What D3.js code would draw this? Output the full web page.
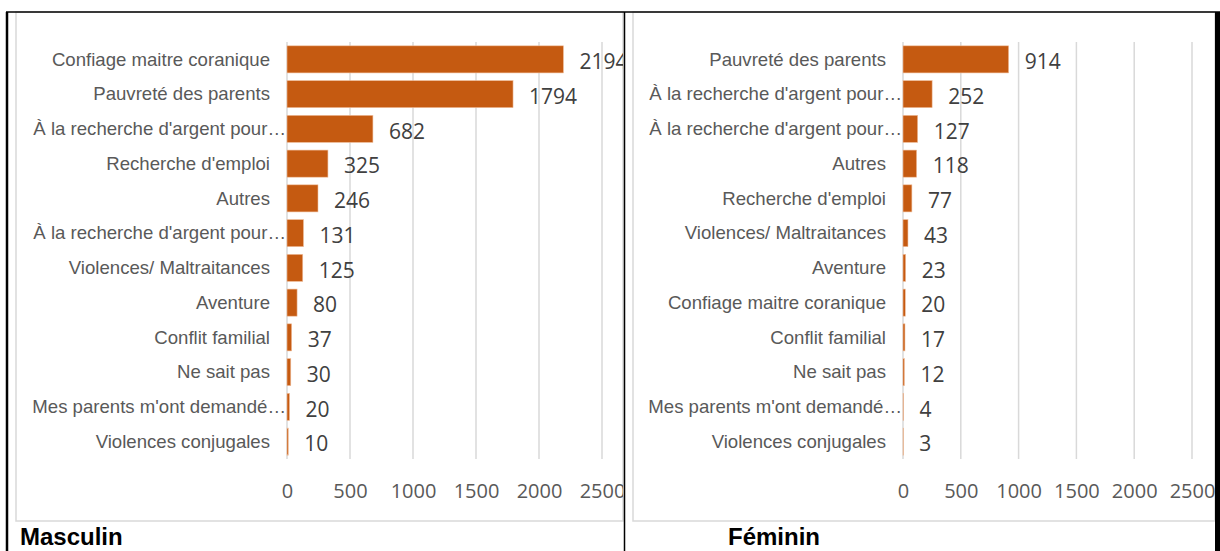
<!DOCTYPE html>
<html>
<head>
<meta charset="utf-8">
<script src="https://cdn.jsdelivr.net/npm/d3@7"></script>
<style>
  html, body { margin: 0; padding: 0; background: #fff; }
  svg { display: block; }
</style>
</head>
<body>
<div id="chart"></div>
<script>
// data
const labelsMasc = ["Confiage maitre coranique", "Pauvreté des parents", "À la recherche d'argent pour…",
  "Recherche d'emploi", "Autres", "À la recherche d'argent pour…", "Violences/ Maltraitances",
  "Aventure", "Conflit familial", "Ne sait pas", "Mes parents m'ont demandé…", "Violences conjugales"];
const valuesMasc = [2194, 1794, 682, 325, 246, 131, 125, 80, 37, 30, 20, 10];

const labelsFem = ["Pauvreté des parents", "À la recherche d'argent pour…", "À la recherche d'argent pour…",
  "Autres", "Recherche d'emploi", "Violences/ Maltraitances", "Aventure", "Confiage maitre coranique",
  "Conflit familial", "Ne sait pas", "Mes parents m'ont demandé…", "Violences conjugales"];
const valuesFem = [914, 252, 127, 118, 77, 43, 23, 20, 17, 12, 4, 3];

const tickValues = [0, 500, 1000, 1500, 2000, 2500];

const W = 1220, H = 551;
const barColor = "#c55a11";
const gridColor = "#d9d9d9";

const panels = [
  { id: "masc", title: "Masculin", labels: labelsMasc, values: valuesMasc,
    frame: [16, 12, 623, 521], range: [287, 602], titleX: 20, titleY: 545 },
  { id: "fem", title: "Féminin", labels: labelsFem, values: valuesFem,
    frame: [633, 12, 1215, 521], range: [903, 1192], titleX: 728, titleY: 545 }
];

const svg = d3.select("#chart").append("svg")
  .attr("width", W)
  .attr("height", H);

const defs = svg.append("defs");

panels.forEach(function(p) {
  const [fx0, fy0, fx1, fy1] = p.frame;

  defs.append("clipPath").attr("id", "clip-" + p.id)
    .append("rect")
    .attr("x", fx0).attr("y", fy0)
    .attr("width", fx1 - fx0).attr("height", fy1 - fy0);

  // chart frame
  svg.append("rect")
    .attr("x", fx0).attr("y", fy0)
    .attr("width", fx1 - fx0).attr("height", fy1 - fy0)
    .attr("fill", "none")
    .attr("stroke", gridColor)
    .attr("stroke-width", 1.5);

  const g = svg.append("g").attr("clip-path", "url(#clip-" + p.id + ")");

  const x = d3.scaleLinear().domain([0, 2500]).range(p.range);
  const y = d3.scaleBand()
    .domain(d3.range(p.values.length))
    .range([42, 459])
    .paddingInner(0.22)
    .paddingOuter(0.11);

  // gridlines
  g.selectAll(".grid")
    .data(tickValues)
    .join("line")
    .attr("x1", d => x(d)).attr("x2", d => x(d))
    .attr("y1", 42).attr("y2", 459)
    .attr("stroke", gridColor)
    .attr("stroke-width", 1.5);

  // bars
  g.selectAll(".bar")
    .data(p.values)
    .join("rect")
    .attr("x", x(0))
    .attr("y", (d, i) => y(i))
    .attr("width", d => x(d) - x(0))
    .attr("height", y.bandwidth())
    .attr("fill", barColor)
    .attr("stroke", "#f0c0a0")
    .attr("stroke-width", 0.6);

  // value labels
  g.selectAll(".val")
    .data(p.values)
    .join("text")
    .attr("x", d => x(d) + 16)
    .attr("y", (d, i) => y(i) + y.bandwidth() / 2 + 9.7)
    .attr("font-family", "'Open Sans', sans-serif")
    .attr("font-size", 21)
    .attr("fill", "#404040")
    .text(d => d);

  // category labels
  g.selectAll(".cat")
    .data(p.labels)
    .join("text")
    .attr("x", d => d.endsWith("…") ? x(0) - 1 : x(0) - 17)
    .attr("y", (d, i) => y(i) + y.bandwidth() / 2 + 6.3)
    .attr("text-anchor", "end")
    .attr("font-family", "'Liberation Sans', Arial, sans-serif")
    .attr("font-size", 18.6)
    .attr("fill", "#595959")
    .text(d => d);

  // x axis labels
  const ax = g.append("g")
    .attr("transform", "translate(0,470)")
    .call(d3.axisBottom(x).tickValues(tickValues).tickFormat(d3.format("d"))
      .tickSize(0).tickPadding(14));
  ax.select(".domain").remove();
  ax.selectAll("text")
    .attr("font-family", "'Open Sans', sans-serif")
    .attr("font-size", 20)
    .attr("fill", "#595959");

  // panel title
  svg.append("text")
    .attr("x", p.titleX)
    .attr("y", p.titleY)
    .attr("font-family", "'Liberation Sans', Arial, sans-serif")
    .attr("font-weight", "bold")
    .attr("font-size", 24)
    .attr("fill", "#000")
    .text(p.title);
});

// table borders
svg.append("line").attr("x1", 6).attr("x2", W).attr("y1", 12).attr("y2", 12)
  .attr("stroke", "#000").attr("stroke-width", 1.5);
svg.append("line").attr("x1", 7).attr("x2", 7).attr("y1", 12).attr("y2", H)
  .attr("stroke", "#000").attr("stroke-width", 2.5);
svg.append("line").attr("x1", 624.5).attr("x2", 624.5).attr("y1", 12).attr("y2", H)
  .attr("stroke", "#000").attr("stroke-width", 1.5);
svg.append("rect").attr("x", 1215).attr("y", 12).attr("width", 5).attr("height", H - 12)
  .attr("fill", "#000");
</script>
</body>
</html>
